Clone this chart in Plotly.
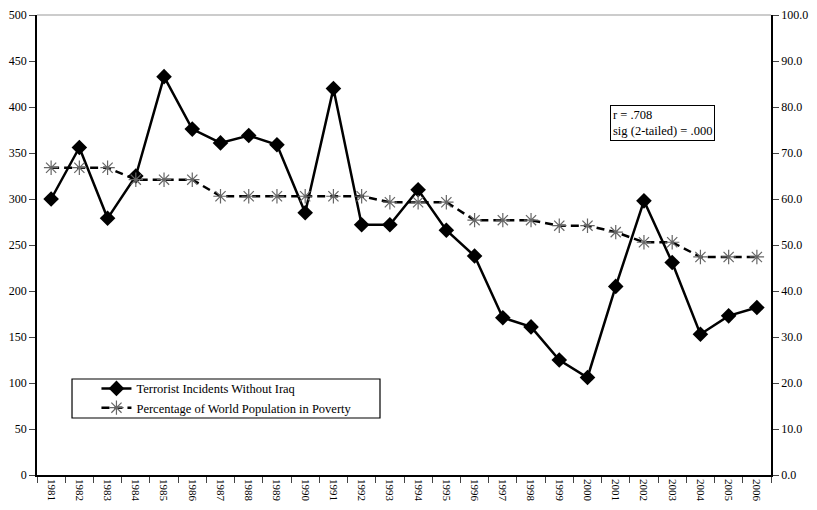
import plotly.graph_objects as go

years = [str(y) for y in range(1981, 2007)]
incidents = [300, 356, 279, 325, 433, 376, 361, 369, 359, 285, 420, 272, 272, 310,
             266, 238, 171, 161, 125, 106, 205, 298, 231, 153, 173, 182]
poverty = [66.8, 66.8, 66.8, 64.2, 64.2, 64.2, 60.6, 60.6, 60.6, 60.6, 60.6, 60.6, 59.3,
           59.3, 59.3, 55.4, 55.4, 55.4, 54.2, 54.2, 52.8, 50.6, 50.6, 47.4, 47.4, 47.4]
left_ticks = list(range(0, 501, 50))
right_ticks = [i * 10 for i in range(11)]

FONT = "'Liberation Serif', 'Times New Roman', serif"
OFF = 8  # default page body margin

fig = go.Figure()
fig.add_trace(go.Scatter(
    x=years, y=poverty, name="Percentage of World Population in Poverty", yaxis="y2",
    mode="lines+markers",
    line=dict(color="black", width=2.5, dash="8px,5px"),
    marker=dict(symbol="asterisk-open", size=12, color="#666", line=dict(color="#666", width=1.2)),
))
fig.add_trace(go.Scatter(
    x=years, y=incidents, name="Terrorist Incidents Without Iraq",
    mode="lines+markers",
    line=dict(color="black", width=2.5),
    marker=dict(symbol="diamond", size=12, color="black"),
))

fig.update_layout(
    width=817 - 2 * OFF, height=510 - 2 * OFF,
    margin=dict(l=37 - OFF, r=46 - OFF, t=15 - OFF, b=35 - OFF, autoexpand=False),
    paper_bgcolor="white", plot_bgcolor="white",
    font=dict(family=FONT, size=12, color="black"),
    xaxis=dict(type="category", tickson="boundaries", ticks="outside", ticklen=6,
               tickangle=90, showline=True, linecolor="black", linewidth=1.5,
               showgrid=False, tickfont=dict(size=11), range=[-0.5, 25.5], automargin=False),
    yaxis=dict(range=[0, 500], tickvals=left_ticks, ticks="outside", ticklen=6,
               showline=True, linecolor="black", linewidth=1.5, showgrid=False,
               zeroline=False, automargin=False, tickfont=dict(size=12)),
    yaxis2=dict(range=[0, 100], tickvals=right_ticks, ticktext=[f"{v:.1f}" for v in right_ticks],
                overlaying="y", side="right", ticks="outside", ticklen=6,
                showline=True, linecolor="black", linewidth=1.5, showgrid=False,
                zeroline=False, automargin=False, tickfont=dict(size=12)),
    legend=dict(x=0.081, y=0.22, xanchor="left", yanchor="top", traceorder="reversed",
                bgcolor="rgba(0,0,0,0)", borderwidth=0, font=dict(size=12.5, family=FONT),
                tracegroupgap=0, itemwidth=30),
    showlegend=True,
)
fig.add_shape(type="rect", xref="paper", yref="paper", x0=0.0477, x1=0.4673, y0=0.1239, y1=0.2087,
              line=dict(color="black", width=1.2), fillcolor="rgba(0,0,0,0)")
fig.add_shape(type="line", xref="paper", yref="paper", x0=0, x1=1, y0=1, y1=1,
              line=dict(color="#999", width=1.2))
fig.add_annotation(xref="paper", yref="paper", x=0.781, y=0.804, xanchor="left", yanchor="top",
                   text="r = .708<br>sig (2-tailed) = .000", showarrow=False, align="left",
                   bordercolor="black", borderwidth=1, borderpad=2, bgcolor="white",
                   font=dict(size=12.5, family=FONT))

fig.write_html("out.html")
